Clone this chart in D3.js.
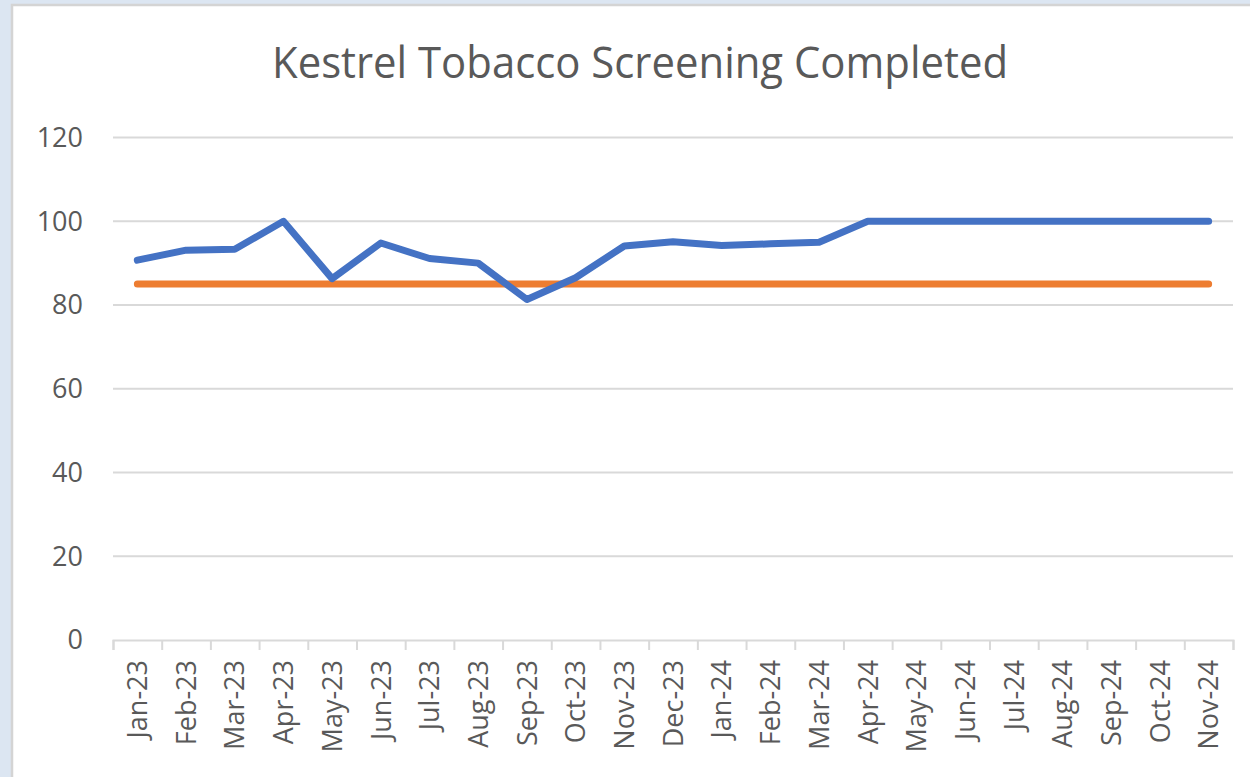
<!DOCTYPE html>
<html>
<head>
<meta charset="utf-8">
<script src="https://cdn.jsdelivr.net/npm/d3@7"></script>
<style>
  html, body { margin: 0; padding: 0; background: #dce6f2; }
  svg { display: block; }
  text { font-family: "Open Sans", "Noto Sans", sans-serif; fill: #595959; }
</style>
</head>
<body>
<svg id="svg"></svg>
<script>
const months = ['Jan-23','Feb-23','Mar-23','Apr-23','May-23','Jun-23','Jul-23','Aug-23',
  'Sep-23','Oct-23','Nov-23','Dec-23','Jan-24','Feb-24','Mar-24','Apr-24','May-24',
  'Jun-24','Jul-24','Aug-24','Sep-24','Oct-24','Nov-24'];
const completed = [90.7, 93.1, 93.3, 100, 86.3, 94.8, 91.1, 90.0, 81.3, 86.5, 94.1, 95.1,
  94.2, 94.6, 95.0, 100, 100, 100, 100, 100, 100, 100, 100];
const target = [85, 85, 85, 85, 85, 85, 85, 85, 85, 85, 85, 85,
  85, 85, 85, 85, 85, 85, 85, 85, 85, 85, 85];
const yTicks = [0, 20, 40, 60, 80, 100, 120];
const title = 'Kestrel Tobacco Screening Completed';

const width = 1250, height = 777;
const plot = {left: 113, right: 1233, top: 137.5, bottom: 640};

const svg = d3.select('#svg').attr('width', width).attr('height', height);

// chart frame
svg.append('rect')
  .attr('x', 12).attr('y', 5)
  .attr('width', width).attr('height', height)
  .attr('fill', '#fff')
  .attr('stroke', '#d4d4d4')
  .attr('stroke-width', 2.5);

const x = d3.scaleBand().domain(months).range([plot.left, plot.right]).padding(0);
const xEdge = d3.scaleLinear().domain([0, months.length]).range([plot.left, plot.right]);
const y = d3.scaleLinear().domain([0, 120]).range([plot.bottom, plot.top]);

// gridlines
svg.append('g')
  .selectAll('line')
  .data(yTicks.filter(d => d > 0))
  .enter()
  .append('line')
  .attr('x1', plot.left).attr('x2', plot.right)
  .attr('y1', d => y(d)).attr('y2', d => y(d))
  .attr('stroke', '#d9d9d9')
  .attr('stroke-width', 2);

// y labels
svg.append('g')
  .selectAll('text')
  .data(yTicks)
  .enter()
  .append('text')
  .attr('x', 83)
  .attr('y', d => y(d))
  .attr('dy', '0.35em')
  .attr('text-anchor', 'end')
  .style('font-size', '27px')
  .text(d => d);

// x axis line + tick marks at category edges
const axisG = svg.append('g')
  .attr('transform', `translate(0,${plot.bottom})`)
  .call(d3.axisBottom(xEdge).tickValues(d3.range(months.length + 1)).tickSize(10).tickFormat(''));
axisG.select('.domain').attr('stroke', '#d9d9d9').attr('stroke-width', 2);
axisG.selectAll('.tick line').attr('stroke', '#d9d9d9').attr('stroke-width', 2);

// x labels, rotated
const labG = svg.append('g')
  .attr('transform', `translate(0,${plot.bottom})`)
  .call(d3.axisBottom(x).tickSize(0).tickPadding(0));
labG.select('.domain').remove();
labG.selectAll('text')
  .attr('transform', 'rotate(-90)')
  .attr('x', -20)
  .attr('y', 0)
  .attr('dy', '0.36em')
  .attr('text-anchor', 'end')
  .style('font-size', '27px')
  .style('font-family', '"Open Sans", sans-serif')
  .style('fill', '#595959');

const line = d3.line()
  .x((d, i) => x(months[i]) + x.bandwidth() / 2)
  .y(d => y(d));

svg.append('path')
  .datum(target)
  .attr('d', line)
  .attr('fill', 'none')
  .attr('stroke', '#ed7d31')
  .attr('stroke-width', 7)
  .attr('stroke-linecap', 'round')
  .attr('stroke-linejoin', 'round');

svg.append('path')
  .datum(completed)
  .attr('d', line)
  .attr('fill', 'none')
  .attr('stroke', '#4472c4')
  .attr('stroke-width', 7)
  .attr('stroke-linecap', 'round')
  .attr('stroke-linejoin', 'round');

// title
svg.append('text')
  .attr('x', 640)
  .attr('y', 78)
  .attr('text-anchor', 'middle')
  .attr('textLength', 736)
  .attr('lengthAdjust', 'spacingAndGlyphs')
  .style('font-size', '44px')
  .text(title);
</script>
</body>
</html>
